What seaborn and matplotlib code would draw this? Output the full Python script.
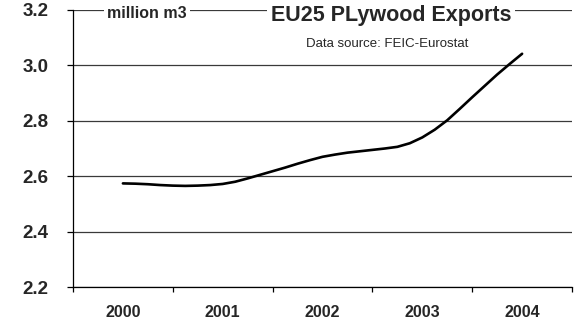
import matplotlib
matplotlib.use("Agg")
import matplotlib.pyplot as plt
import matplotlib.ticker as mticker
import pandas as pd
import seaborn as sns

# EU25 plywood exports, million m3, read every eighth of a year
periods = [2000.000, 2000.125, 2000.250, 2000.375, 2000.500, 2000.625, 2000.750, 2000.875,
           2001.000, 2001.125, 2001.250, 2001.375, 2001.500, 2001.625, 2001.750, 2001.875,
           2002.000, 2002.125, 2002.250, 2002.375, 2002.500, 2002.625, 2002.750, 2002.875,
           2003.000, 2003.125, 2003.250, 2003.375, 2003.500, 2003.625, 2003.750, 2003.875,
           2004.000]
exports = [2.574, 2.573, 2.571, 2.568, 2.566, 2.565, 2.566, 2.568,
           2.572, 2.580, 2.592, 2.605, 2.618, 2.631, 2.645, 2.658,
           2.670, 2.678, 2.685, 2.690, 2.695, 2.700, 2.706, 2.719,
           2.740, 2.768, 2.802, 2.843, 2.885, 2.926, 2.967, 3.005,
           3.042]
year_labels = ["2000", "2001", "2002", "2003", "2004"]
year_values = [2000, 2001, 2002, 2003, 2004]
y_ticks = [2.2, 2.4, 2.6, 2.8, 3.0, 3.2]

df = pd.DataFrame({"period": periods, "exports": exports})

sns.set_style("white")
plt.rcParams["font.family"] = ["Liberation Sans", "DejaVu Sans"]

fig = plt.figure(figsize=(5.75, 3.23), dpi=100)
ax = fig.add_axes([73 / 575, 1 - 287 / 323, (572 - 73) / 575, (287 - 10) / 323])

sns.lineplot(data=df, x="period", y="exports", ax=ax, color="black",
             linewidth=1.9, zorder=3)

ax.set_xlim(year_values[0] - 0.5, year_values[-1] + 0.5)
ax.set_ylim(y_ticks[0], y_ticks[-1])

# category boundaries carry the tick marks, year labels sit between them
bounds = [y - 0.5 for y in year_values] + [year_values[-1] + 0.5]
ax.xaxis.set_major_locator(mticker.FixedLocator(bounds))
ax.xaxis.set_major_formatter(mticker.NullFormatter())
ax.xaxis.set_minor_locator(mticker.FixedLocator(year_values))
ax.xaxis.set_minor_formatter(mticker.FixedFormatter(year_labels))
ax.tick_params(axis="x", which="major", direction="out", length=3.5,
               width=0.9, color="black", bottom=True)
ax.tick_params(axis="x", which="minor", length=0, pad=13, labelsize=11.5,
               bottom=True)
for lbl in ax.get_xticklabels(minor=True):
    lbl.set_fontweight("bold")

ax.set_yticks(y_ticks)
ax.yaxis.set_major_formatter(mticker.FormatStrFormatter("%.1f"))
ax.tick_params(axis="y", direction="out", length=4.5, width=0.9,
               color="black", pad=13, labelsize=13.5, left=True)
for lbl in ax.get_yticklabels():
    lbl.set_fontweight("bold")

ax.yaxis.grid(True, color="#3a3a3a", linewidth=0.9, zorder=1)
ax.xaxis.grid(False)
ax.set_xlabel("")
ax.set_ylabel("")

for side in ["top", "right"]:
    ax.spines[side].set_visible(False)
for side in ["left", "bottom"]:
    ax.spines[side].set_color("black")
    ax.spines[side].set_linewidth(0.9)

box = dict(facecolor="white", edgecolor="none", pad=2.5)
fig.text(147 / 575, 1 - 13 / 323, "million m3", ha="center", va="center",
         fontsize=11.5, fontweight="bold", bbox=box, zorder=5)
fig.text(391 / 575, 1 - 16 / 323, "EU25 PLywood Exports", ha="center",
         va="center", fontsize=15.5, fontweight="bold", bbox=box, zorder=5)
fig.text(387 / 575, 1 - 44 / 323, "Data source: FEIC-Eurostat", ha="center",
         va="center", fontsize=9.5, zorder=5)

fig.savefig("out.png", dpi=100)
